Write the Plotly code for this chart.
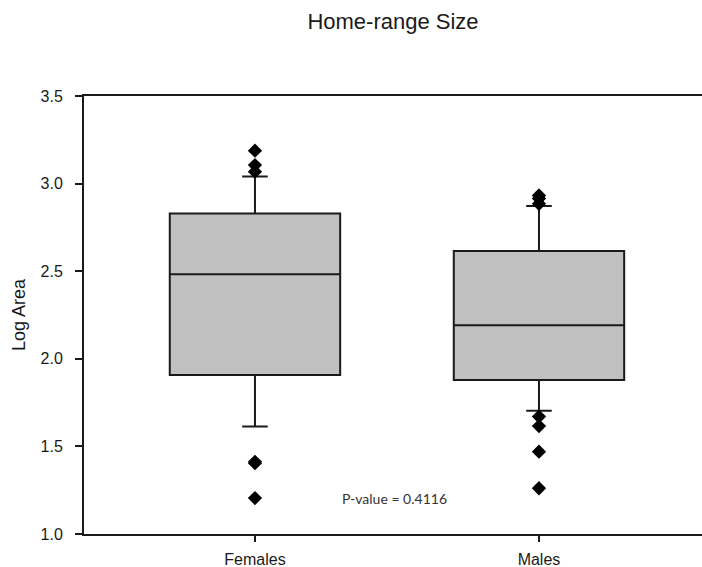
import plotly.graph_objects as go

categories = ["Females", "Males"]
q1 = [1.907, 1.879]
median = [2.482, 2.191]
q3 = [2.830, 2.615]
lower_whisker = [1.613, 1.704]
upper_whisker = [3.040, 2.872]
female_outliers = [3.188, 3.106, 3.068, 1.412, 1.404, 1.205]
male_outliers = [2.932, 2.915, 2.885, 1.670, 1.616, 1.470, 1.261]
y_ticks = [1.0, 1.5, 2.0, 2.5, 3.0, 3.5]
y_tick_labels = ["1.0", "1.5", "2.0", "2.5", "3.0", "3.5"]

fig = go.Figure()
for i, cat in enumerate(categories):
    fig.add_trace(go.Box(
        x=[cat], q1=[q1[i]], median=[median[i]], q3=[q3[i]],
        lowerfence=[lower_whisker[i]], upperfence=[upper_whisker[i]],
        boxpoints=False, width=0.6, whiskerwidth=0.15,
        fillcolor="rgb(192,192,192)",
        line=dict(color="#1a1a1a", width=2),
        showlegend=False, hoverinfo="skip",
    ))

outlier_sets = [female_outliers, male_outliers]
for cat, vals in zip(categories, outlier_sets):
    fig.add_trace(go.Scatter(
        x=[cat] * len(vals), y=vals, mode="markers",
        marker=dict(symbol="diamond", size=11, color="black"),
        showlegend=False, hoverinfo="skip",
    ))

fig.add_annotation(
    x=0.493, y=1.205, xref="x", yref="y",
    text="P-value = 0.4116", showarrow=False,
    font=dict(family="Lato, Open Sans, sans-serif", size=14, color="#333"),
)

fig.update_layout(
    width=702, height=567,
    margin=dict(l=84, r=0, t=96, b=33, autoexpand=False),
    paper_bgcolor="white", plot_bgcolor="white",
    font=dict(family="Liberation Sans, Arial, sans-serif", color="#1a1a1a"),
    title=dict(text="Home-range Size", x=0.5, xref="paper",
               y=0.963, yref="container", yanchor="middle",
               font=dict(size=22, color="#1a1a1a")),
)
fig.update_xaxes(
    type="category", categoryorder="array", categoryarray=categories,
    range=[-0.602, 1.574],
    showline=True, linecolor="#1a1a1a", linewidth=2, mirror=True,
    ticks="outside", ticklen=6, tickwidth=1.5, tickcolor="#1a1a1a",
    showgrid=False, zeroline=False,
    tickfont=dict(size=16), ticklabelstandoff=4,
)
fig.update_yaxes(
    range=[1.0, 3.5], tickvals=y_ticks, ticktext=y_tick_labels,
    showline=True, linecolor="#1a1a1a", linewidth=2, mirror=False,
    ticks="outside", ticklen=7, tickwidth=1.5, tickcolor="#1a1a1a",
    showgrid=False, zeroline=False,
    tickfont=dict(size=16), ticklabelstandoff=9,
    title=dict(text="Log Area", font=dict(size=18), standoff=10),
)

fig.write_html(
    "out.html",
    config={"displayModeBar": False},
    post_script="document.body.style.margin='0';document.body.style.padding='0';",
)
